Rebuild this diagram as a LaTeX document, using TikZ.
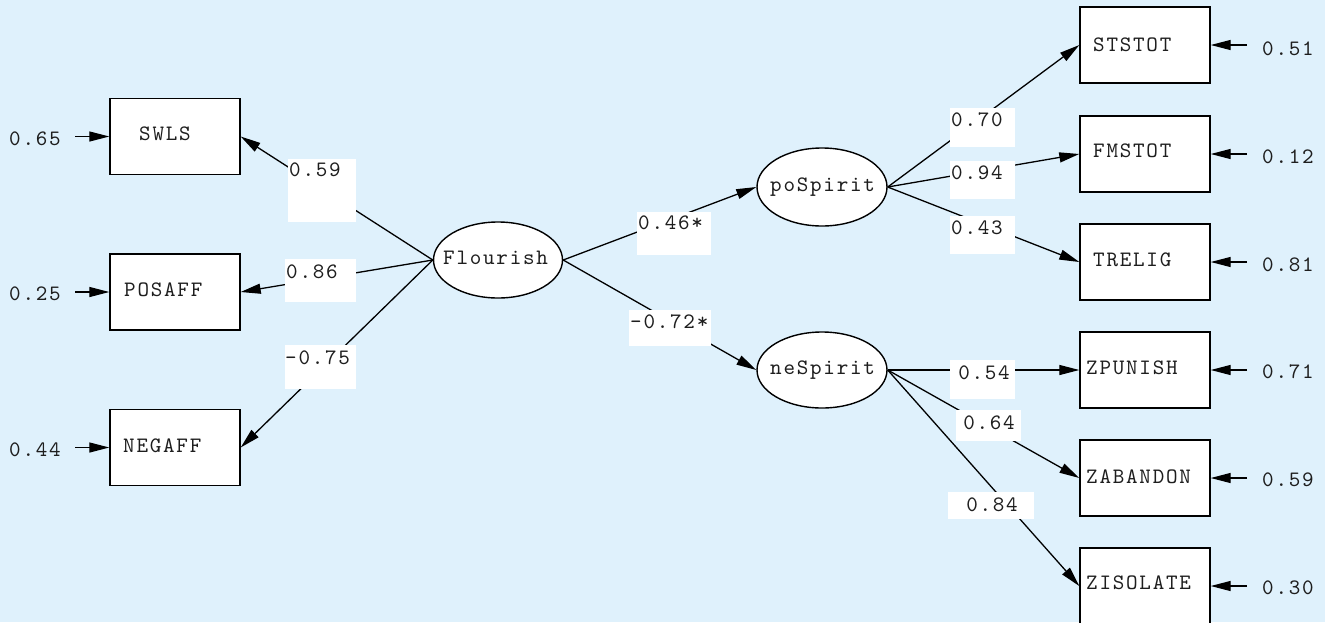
\documentclass[tikz,border=0pt]{standalone}
\usepackage{fontspec}
\setmonofont{lmmono10-regular.otf}[LetterSpace=8]
\usetikzlibrary{arrows.meta,shapes.geometric}
\definecolor{bg}{RGB}{223,241,252}
\definecolor{ink}{RGB}{30,30,30}
\begin{document}
\begin{tikzpicture}[x=1pt,y=-1pt,
  every node/.style={font=\ttfamily\fontsize{22}{26}\selectfont, text=ink},
  obs/.style={draw, line width=1.4pt, fill=white, minimum width=130pt, minimum height=76pt, inner sep=0pt},
  lat/.style={draw, ellipse, line width=1.4pt, fill=white, inner sep=0pt},
  txt/.style={anchor=west, inner sep=0pt},
  ctxt/.style={anchor=center, inner sep=0pt},
  conn/.style={line width=1.3pt, -{Triangle[length=20pt,width=10pt]}},
  lblbg/.style={fill=white}
]
\useasboundingbox (0,0) rectangle (1325,622);
\fill[bg] (0,0) rectangle (1325,622);

% observed variables
\node[obs] (swls) at (175,136.5) {};
\node[obs] (posaff) at (175,292) {};
\node[obs] (negaff) at (175,447.5) {};
\node[obs] (ststot) at (1145,45) {};
\node[obs] (fmstot) at (1145,154) {};
\node[obs] (trelig) at (1145,262) {};
\node[obs] (zpunish) at (1145,370) {};
\node[obs] (zaband) at (1145,478) {};
\node[obs] (zisol) at (1145,586) {};

% latent variables
\node[lat, minimum width=129pt, minimum height=76pt] (flo) at (498,260) {};
\node[lat, minimum width=130pt, minimum height=78pt] (pos) at (822,187) {};
\node[lat, minimum width=130pt, minimum height=76pt] (neg) at (822,370) {};
\node[txt] (flo-t) at (443,258) {Flourish};
\node[txt] (pos-t) at (770,187) {poSpirit};
\node[txt] (neg-t) at (770,370) {neSpirit};

% error coordinates
\coordinate (e1) at (75,136.5);
\coordinate (e2) at (75,292);
\coordinate (e3) at (75,447.5);
\coordinate (r1) at (1247,45);
\coordinate (r2) at (1247,154);
\coordinate (r3) at (1247,262);
\coordinate (r4) at (1247,370);
\coordinate (r5) at (1247,478);
\coordinate (r6) at (1247,586);

% connectors
\draw[conn] (flo.west) -- (swls.east);
\draw[conn] (flo.west) -- (posaff.east);
\draw[conn] (flo.west) -- (negaff.east);
\draw[conn] (flo.east) -- (pos.west);
\draw[conn] (flo.east) -- (neg.west);
\draw[conn] (pos.east) -- (ststot.west);
\draw[conn] (pos.east) -- (fmstot.west);
\draw[conn] (pos.east) -- (trelig.west);
\draw[conn] (neg.east) -- (zpunish.west);
\draw[conn] (neg.east) -- (zaband.west);
\draw[conn] (neg.east) -- (zisol.west);

\draw[conn] (e1) -- (swls.west);
\draw[conn] (e2) -- (posaff.west);
\draw[conn] (e3) -- (negaff.west);
\draw[conn] (r1) -- (ststot.east);
\draw[conn] (r2) -- (fmstot.east);
\draw[conn] (r3) -- (trelig.east);
\draw[conn] (r4) -- (zpunish.east);
\draw[conn] (r5) -- (zaband.east);
\draw[conn] (r6) -- (zisol.east);

% label backgrounds
\fill[lblbg] (288,159) rectangle (356,222);
\fill[lblbg] (285,259) rectangle (356,302);
\fill[lblbg] (285,345) rectangle (356,389);
\fill[lblbg] (637,212) rectangle (711,255);
\fill[lblbg] (629,310) rectangle (711,346);
\fill[lblbg] (950,108) rectangle (1015,147);
\fill[lblbg] (950,161) rectangle (1015,199);
\fill[lblbg] (950,216) rectangle (1015,254);
\fill[lblbg] (950,360) rectangle (1015,399);
\fill[lblbg] (956,410) rectangle (1021,441);
\fill[lblbg] (948,492) rectangle (1034,519);

% coefficient labels
\node[txt] (l1) at (289,170) {0.59};
\node[txt] (l2) at (286,272) {0.86};
\node[txt] (l3) at (285,358) {-0.75};
\node[txt] (l4) at (638,223) {0.46*};
\node[txt] (l5) at (630,322) {-0.72*};
\node[txt] (l6) at (951,120) {0.70};
\node[txt] (l7) at (951,173) {0.94};
\node[txt] (l8) at (951,228) {0.43};
\node[ctxt] (l9) at (984,373) {0.54};
\node[ctxt] (l10) at (989,423) {0.64};
\node[ctxt] (l11) at (992,505) {0.84};

% box texts
\node[txt] (t1) at (139,134) {SWLS};
\node[txt] (t2) at (124,290) {POSAFF};
\node[txt] (t3) at (123,446) {NEGAFF};
\node[txt] (t4) at (1093,45) {STSTOT};
\node[txt] (t5) at (1093,151) {FMSTOT};
\node[txt] (t6) at (1093,260) {TRELIG};
\node[txt] (t7) at (1086,368) {ZPUNISH};
\node[txt] (t8) at (1086,477) {ZABANDON};
\node[txt] (t9) at (1086,583) {ZISOLATE};

% error labels
\node[txt] (v1) at (9,139) {0.65};
\node[txt] (v2) at (9,294) {0.25};
\node[txt] (v3) at (9,450) {0.44};
\node[txt] (w1) at (1262,49) {0.51};
\node[txt] (w2) at (1262,157) {0.12};
\node[txt] (w3) at (1262,265) {0.81};
\node[txt] (w4) at (1262,372) {0.71};
\node[txt] (w5) at (1262,480) {0.59};
\node[txt] (w6) at (1262,588) {0.30};
\end{tikzpicture}
\end{document}
